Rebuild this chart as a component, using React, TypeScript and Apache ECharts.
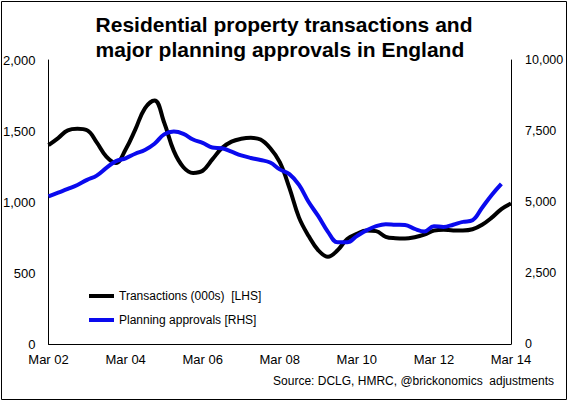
import React, { useEffect, useRef } from "react";
import * as echarts from "echarts";

const categories = [
  "Mar 02", "Jun 02", "Sep 02", "Dec 02",
  "Mar 03", "Jun 03", "Sep 03", "Dec 03",
  "Mar 04", "Jun 04", "Sep 04", "Dec 04",
  "Mar 05", "Jun 05", "Sep 05", "Dec 05",
  "Mar 06", "Jun 06", "Sep 06", "Dec 06",
  "Mar 07", "Jun 07", "Sep 07", "Dec 07",
  "Mar 08", "Jun 08", "Sep 08", "Dec 08",
  "Mar 09", "Jun 09", "Sep 09", "Dec 09",
  "Mar 10", "Jun 10", "Sep 10", "Dec 10",
  "Mar 11", "Jun 11", "Sep 11", "Dec 11",
  "Mar 12", "Jun 12", "Sep 12", "Dec 12",
  "Mar 13", "Jun 13", "Sep 13", "Dec 13",
  "Mar 14",
];

// Transactions (000s) [LHS]
const transactions = [
  1400, 1450, 1505, 1515, 1505, 1420, 1320, 1275,
  1370, 1510, 1660, 1715, 1560, 1360, 1245, 1205,
  1220, 1300, 1380, 1425, 1445, 1452, 1440, 1380,
  1280, 1100, 890, 760, 660, 615, 660, 740,
  775, 800, 795, 755, 745, 743, 752, 770,
  798, 805, 800, 800, 808, 840, 890, 950,
  990,
];

// Planning approvals [RHS]
const approvals = [
  5200, 5330, 5460, 5600, 5780, 5930, 6200, 6440,
  6540, 6700, 6830, 7050, 7380, 7480, 7400, 7200,
  7080, 6920, 6890, 6770, 6640, 6550, 6480, 6390,
  6150, 5980, 5600, 5000, 4500, 3950, 3580, 3580,
  3800, 4000, 4150, 4220, 4200, 4190, 4050, 3960,
  4150, 4120, 4200, 4300, 4360, 4800, 5250, 5640,
];

const leftTicks = { min: 0, max: 2000, interval: 500 };
const rightTicks = { min: 0, max: 10000, interval: 2500 };

const titleText = "Residential property transactions and\nmajor planning approvals in England";
const sourceText = "Source: DCLG, HMRC, @brickonomics  adjustments";

const FONT = '"Liberation Sans", Arial, sans-serif';

export default function App() {
  const ref = useRef<HTMLDivElement>(null);

  useEffect(() => {
    document.body.style.margin = "0";
    if (!ref.current) return;
    const chart = echarts.init(ref.current, null, { renderer: "svg" });
    const fmt = (v: number) => v.toLocaleString("en-US");
    chart.setOption({
      animation: false,
      backgroundColor: "#ffffff",
      textStyle: { fontFamily: FONT },
      legend: {
        orient: "vertical",
        left: 89,
        top: 289,
        padding: 0,
        icon: "rect",
        itemWidth: 25,
        itemHeight: 4,
        itemGap: 10,
        textStyle: { fontFamily: FONT, fontSize: 12, color: "#000", lineHeight: 14 },
        data: ["Transactions (000s)  [LHS]", "Planning approvals [RHS]"],
      },
      grid: { left: 48, right: 57, top: 60, bottom: 58, containLabel: false },
      xAxis: {
        type: "category",
        data: categories,
        boundaryGap: false,
        axisLine: { show: true, lineStyle: { color: "#000", width: 1 } },
        axisTick: { show: false },
        splitLine: { show: false },
        axisLabel: {
          interval: 7,
          margin: 9,
          fontFamily: FONT,
          fontSize: 13,
          color: "#000",
        },
      },
      yAxis: [
        {
          type: "value",
          position: "left",
          ...leftTicks,
          axisLine: { show: true, lineStyle: { color: "#000", width: 1 } },
          axisTick: { show: false },
          splitLine: { show: false },
          axisLabel: {
            margin: 13,
            fontFamily: FONT,
            fontSize: 13,
            color: "#000",
            formatter: fmt,
          },
        },
        {
          type: "value",
          position: "right",
          ...rightTicks,
          axisLine: { show: true, lineStyle: { color: "#000", width: 1 } },
          axisTick: { show: false },
          splitLine: { show: false },
          axisLabel: {
            margin: 14,
            fontFamily: FONT,
            fontSize: 12.5,
            color: "#000",
            formatter: fmt,
          },
        },
      ],
      series: [
        {
          name: "Transactions (000s)  [LHS]",
          type: "line",
          yAxisIndex: 0,
          data: transactions,
          smooth: 0.4,
          showSymbol: false,
          color: "#000000",
          lineStyle: { color: "#000000", width: 4 },
        },
        {
          name: "Planning approvals [RHS]",
          type: "line",
          yAxisIndex: 1,
          data: approvals,
          smooth: 0.4,
          showSymbol: false,
          color: "#0a0aee",
          lineStyle: { color: "#0a0aee", width: 4 },
        },
      ],
      graphic: [
        {
          type: "rect",
          left: 1,
          top: 1,
          z: -1,
          shape: { x: 0, y: 0, width: 565, height: 398 },
          style: { fill: "rgba(0,0,0,0)", stroke: "#000", lineWidth: 1 },
          silent: true,
        },
        {
          type: "text",
          left: "center",
          top: 12,
          style: {
            text: titleText,
            align: "center",
            font: `bold 21px ${FONT}`,
            lineHeight: 25,
            fill: "#000",
          },
        },
        {
          type: "text",
          right: 14,
          top: 375,
          style: {
            text: sourceText,
            font: `12px ${FONT}`,
            fill: "#000",
          },
        },
      ],
    });
    return () => chart.dispose();
  }, []);

  return (
    <div
      ref={ref}
      style={{ position: "absolute", left: 0, top: 0, width: 568, height: 402 }}
    />
  );
}
